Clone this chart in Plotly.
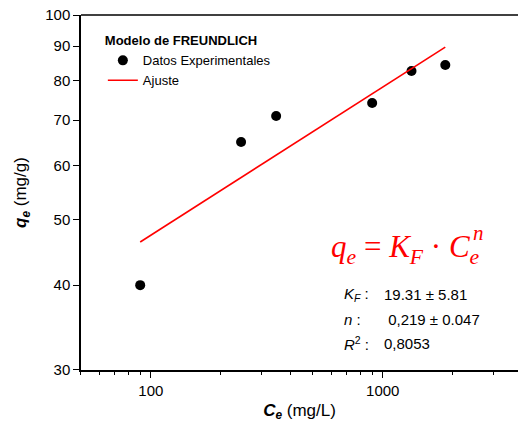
import plotly.graph_objects as go

# Data
ce_exp = [90, 245, 347, 900, 1330, 1860]
qe_exp = [40.0, 65.0, 71.0, 74.2, 82.7, 84.4]
ce_fit = [90, 1860]
qe_fit = [46.3, 89.7]

x_major = [100, 1000]
x_minor = [50, 60, 70, 80, 90, 200, 300, 400, 500, 600, 700, 800, 900, 2000, 3000]
y_ticks = [30, 40, 50, 60, 70, 80, 90, 100]

FONT = "Liberation Sans, Arial, sans-serif"

fig = go.Figure()
fig.add_trace(go.Scatter(x=ce_exp, y=qe_exp, mode="markers", name="Datos Experimentales",
                         marker=dict(color="black", size=10)))
fig.add_trace(go.Scatter(x=ce_fit, y=qe_fit, mode="lines", name="Ajuste",
                         line=dict(color="red", width=1.6)))

fig.update_layout(
    width=518, height=430,
    margin=dict(l=81, r=0, t=15, b=60),
    paper_bgcolor="white", plot_bgcolor="white",
    font=dict(family=FONT, size=14, color="black"),
    showlegend=True,
    legend=dict(x=0.05, y=0.962, xanchor="left", yanchor="top",
                bgcolor="rgba(0,0,0,0)",
                title=dict(text="<b>Modelo de FREUNDLICH</b>", font=dict(size=13, family=FONT)),
                font=dict(size=13, family=FONT),
                tracegroupgap=0, itemsizing="trace"),
)

fig.update_xaxes(type="log", range=[1.699, 3.583],
                 tickvals=x_major, ticktext=["100", "1000"],
                 ticks="outside", ticklen=6, tickwidth=1, tickcolor="black",
                 minor=dict(tickvals=x_minor, ticks="outside", ticklen=3, tickwidth=1, tickcolor="black"),
                 showline=True, linecolor="black", linewidth=1.5,
                 showgrid=False, zeroline=False,
                 tickfont=dict(size=15, family=FONT),
                 title=dict(text="<b><i>C</i></b><sub><b><i>e</i></b></sub> (mg/L)",
                            font=dict(size=17, family=FONT), standoff=6))

fig.update_yaxes(type="log", range=[1.4771, 2.0],
                 tickvals=y_ticks, ticktext=[str(v) for v in y_ticks],
                 ticks="outside", ticklen=6, tickwidth=1, tickcolor="black",
                 showline=True, linecolor="black", linewidth=1.5,
                 showgrid=False, zeroline=False,
                 tickfont=dict(size=15, family=FONT),
                 title=dict(text="<b><i>q</i></b><sub><b><i>e</i></b></sub> (mg/g)",
                            font=dict(size=17, family=FONT), standoff=14))

# Top frame line
fig.add_shape(type="line", xref="paper", yref="paper", x0=0, x1=1, y0=1, y1=1,
              line=dict(color="black", width=1.5))

# Equation
EQF = "Liberation Serif, DejaVu Serif, serif"
fig.add_annotation(xref="paper", yref="paper", x=(329 - 81) / 437, y=(370 - 249) / 355,
                   xanchor="left", yanchor="middle", showarrow=False,
                   text="<i>q</i><sub><i>e</i></sub> = <i>K</i><sub><i>F</i></sub> · <i>C</i><sub><i>e</i></sub>",
                   font=dict(size=31, color="red", family=EQF))
fig.add_annotation(xref="paper", yref="paper", x=(471 - 81) / 437, y=(370 - 233) / 355,
                   xanchor="left", yanchor="middle", showarrow=False,
                   text="<i>n</i>", font=dict(size=21, color="red", family=EQF))

# Stats
labels = ["<i>K</i><sub><i>F</i></sub> :", "<i>n</i> :", "<i>R</i><sup>2</sup> :"]
values = ["19.31 ± 5.81", " 0,219 ± 0.047", "0,8053"]
rows_y = [294, 319, 343]
for lab, val, yy in zip(labels, values, rows_y):
    fig.add_annotation(xref="paper", yref="paper", x=(342 - 81) / 437, y=(370 - yy) / 355,
                       xanchor="left", yanchor="middle", showarrow=False,
                       text=lab, font=dict(size=15, family=FONT))
    fig.add_annotation(xref="paper", yref="paper", x=(382 - 81) / 437, y=(370 - yy) / 355,
                       xanchor="left", yanchor="middle", showarrow=False,
                       text=val, font=dict(size=15, family=FONT))

fig.write_html("out.html")
